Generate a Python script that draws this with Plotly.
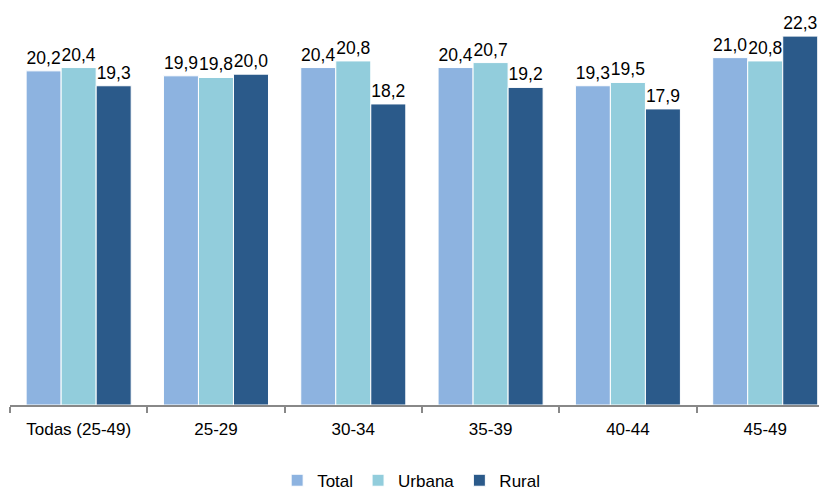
import plotly.graph_objects as go

categories = ["Todas (25-49)", "25-29", "30-34", "35-39", "40-44", "45-49"]
total = [20.2, 19.9, 20.4, 20.4, 19.3, 21.0]
urbana = [20.4, 19.8, 20.8, 20.7, 19.5, 20.8]
rural = [19.3, 20.0, 18.2, 19.2, 17.9, 22.3]

series = [("Total", total, "#8DB3E0"), ("Urbana", urbana, "#92CDDC"), ("Rural", rural, "#2B5A8A")]
FONT = "Liberation Sans, Arial, sans-serif"

fig = go.Figure()
for name, vals, col in series:
    fig.add_trace(go.Bar(
        x=categories, y=vals, name=name,
        marker=dict(color=col, line=dict(color="white", width=1)),
        text=[f"{v:.1f}".replace(".", ",") for v in vals],
        textposition="outside", cliponaxis=False, constraintext="none",
        textfont=dict(family=FONT, size=17.5, color="#000000"),
    ))

fig.update_layout(
    width=819, height=485,
    margin=dict(l=2, r=0, t=0, b=88, autoexpand=False),
    paper_bgcolor="white", plot_bgcolor="white",
    barmode="group", bargap=0.235, bargroupgap=0,
    font=dict(family=FONT, size=17, color="#000000"),
    showlegend=True,
    legend=dict(orientation="h", x=0.491, xanchor="center", y=-0.236, yanchor="bottom",
                font=dict(family=FONT, size=17), traceorder="normal", itemwidth=30,
                bgcolor="rgba(0,0,0,0)"),
)
fig.update_xaxes(
    range=[-0.5, 5.45], showline=True, linecolor="#888888", linewidth=1.5,
    ticks="outside", tickson="boundaries", ticklen=6, tickcolor="#888888", tickwidth=1.5,
    showgrid=False, tickfont=dict(family=FONT, size=17), automargin=False,
    ticklabelstandoff=8,
)
fig.update_yaxes(range=[0, 24], visible=False, showgrid=False, automargin=False)

fig.write_html("out.html")
